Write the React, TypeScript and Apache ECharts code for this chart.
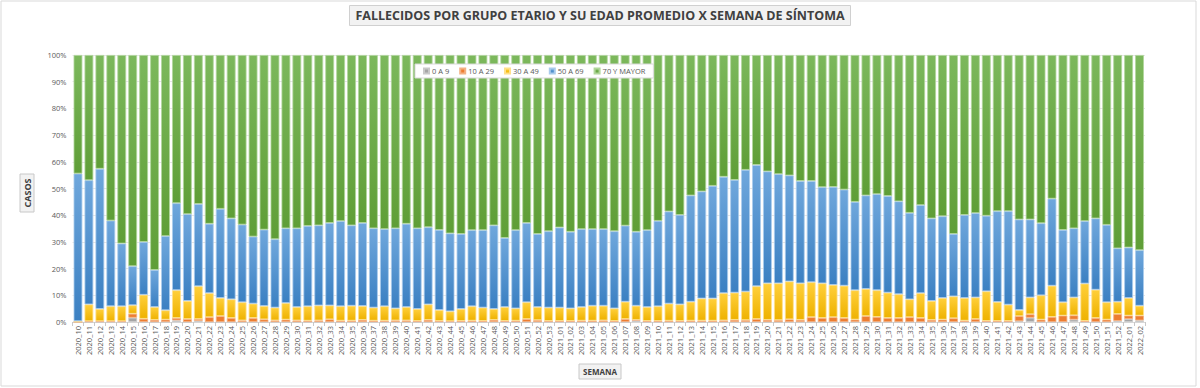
import React, { useEffect, useRef } from "react";
import * as echarts from "echarts";

const weeks: string[] = [
  "2020_10","2020_11","2020_12","2020_13","2020_14","2020_15","2020_16","2020_17","2020_18","2020_19",
  "2020_20","2020_21","2020_22","2020_23","2020_24","2020_25","2020_26","2020_27","2020_28","2020_29",
  "2020_30","2020_31","2020_32","2020_33","2020_34","2020_35","2020_36","2020_37","2020_38","2020_39",
  "2020_40","2020_41","2020_42","2020_43","2020_44","2020_45","2020_46","2020_47","2020_48","2020_49",
  "2020_50","2020_51","2020_52","2020_53","2021_01","2021_02","2021_03","2021_04","2021_05","2021_06",
  "2021_07","2021_08","2021_09","2021_10","2021_11","2021_12","2021_13","2021_14","2021_15","2021_16",
  "2021_17","2021_18","2021_19","2021_20","2021_21","2021_22","2021_23","2021_24","2021_25","2021_26",
  "2021_27","2021_28","2021_29","2021_30","2021_31","2021_32","2021_33","2021_34","2021_35","2021_36",
  "2021_37","2021_38","2021_39","2021_40","2021_41","2021_42","2021_43","2021_44","2021_45","2021_46",
  "2021_47","2021_48","2021_49","2021_50","2021_51","2021_52","2022_01","2022_02",
];

// shares (%) per age group
const age0to9: number[] = [
  0,0,0,0,0,1.6,0,0,0,0.6,
  0,0.4,0,0,0,0,0,0,0,0,
  0,0,0,0,0,0,0,0,0,0,
  0,0,0,0,0,0,0,0,0,0,
  0,0,0,0,0,0,0,0,0,0,
  0,0.6,0,0,0,0,0,0,0,0,
  0,0,0,0,0,0,0,0,0,0,
  0,0,0,0,0,0,0,0,0,0,
  0,0,0,0,0,0,0.3,1.6,0,0,
  0,0.9,0,0,0,0.4,1.1,0.6,
];
const age10to29: number[] = [
  0,0.3,0.3,0.3,0.3,1.5,1.2,0.8,0.9,0.9,
  1.1,0.7,1.8,2.2,1.5,0.6,1.5,1,0.6,0.9,
  0.6,0.5,0.6,1,0.5,0.5,0.8,0.5,0.5,0.6,
  0.6,0.4,0.8,0.4,0.3,0.4,0.5,0.4,0.8,0.4,
  0.5,1.1,0.7,0.4,0.4,0.4,0.5,0.5,0.6,0.4,
  1.1,0.2,0.4,0.4,0.5,0.4,0.5,0.5,0.5,0.6,
  0.8,0.7,1.1,0.8,0.7,1,0.8,1.8,1.5,1.8,
  1.5,0.9,2.2,1.9,1.5,1.5,1.8,1.5,0.8,0.9,
  1.4,0.5,1.1,0.4,0.4,0.4,1.9,1.3,0.9,1.9,
  2.4,1.6,0.4,1.5,0.9,2.6,1.3,1.8,
];
const age30to49: number[] = [
  0.3,6.3,4.6,5.6,5.6,3.2,9,4.8,3.5,10.4,
  6.8,12.3,9,6.8,7,6.8,5.4,5,4.8,6.2,
  5,5.4,5.6,5.2,5.4,5.6,5.2,4.9,5.4,4.5,
  5,4.5,5.8,4.1,3.7,4.5,5.4,5,4.1,5.2,
  4.6,6.3,4.9,5,5,4.7,5.1,5.6,5.5,4.7,
  6.5,5.3,5.2,5.5,6.4,6.2,7.1,8.3,8.3,10.2,
  10.2,10.7,12.3,13.7,13.8,14.2,13.7,13.1,13,12.1,
  12.1,11,10.2,10,9.5,8.9,6.7,9.3,7.1,8.1,
  8.2,8.5,8.1,11.1,7.1,6.1,2.3,6.3,9.1,11.7,
  5,6.7,14,10.6,6.5,4.6,6.6,3.7,
];
const age50to69: number[] = [
  55.3,46.5,52.5,32.1,23.5,14.6,19.8,13.9,27.8,32.6,
  32.5,30.8,26,33.4,30.3,29.1,25.1,28.6,25.6,28,
  29.5,30.1,30,30.9,31.9,30.1,31.1,29.7,28.9,30,
  31.2,30.2,28.9,30,29.2,28.1,28.5,29,31.3,25.9,
  29.3,29.7,27.4,28.6,30,28.7,29.2,28.7,28.7,28.9,
  28.5,27.7,28.8,32,34.5,33.5,39.8,40.1,42.2,43.6,
  42.2,45.6,45.4,41.9,40.9,39.7,38.3,37.9,36,36.7,
  36,33.1,35,36,36.2,34.8,32.4,33,30.9,30.6,
  23.4,31.1,31.6,28.3,34,35,33.9,29.2,27,32.6,
  27.1,25.9,23.4,26.7,29,20,18.9,20.8,
];
const age70plus: number[] = [
  44.4,46.9,42.6,62,70.6,79.1,70,80.5,67.8,55.5,
  59.6,55.8,63.2,57.6,61.2,63.5,68,65.4,69,64.9,
  64.9,64,63.8,62.9,62.2,63.8,62.9,64.9,65.2,64.9,
  63.2,64.9,64.5,65.5,66.8,67,65.6,65.6,63.8,68.5,
  65.6,62.9,67,66,64.6,66.2,65.2,65.2,65.2,66,
  63.9,66.2,65.6,62.1,58.6,59.9,52.6,51.1,49,45.6,
  46.8,43,41.2,43.6,44.6,45.1,47.2,47.2,49.5,49.4,
  50.4,55,52.6,52.1,52.8,54.8,59.1,56.2,61.2,60.4,
  67,59.9,59.2,60.2,58.5,58.5,61.6,61.6,63,53.8,
  65.5,64.9,62.2,61.2,63.6,72.4,72.1,73.1,
];

const seriesNames = ["0 A 9", "10 A 29", "30 A 49", "50 A 69", "70 Y MAYOR"];
const yTicks = [0, 10, 20, 30, 40, 50, 60, 70, 80, 90, 100];

const grad = (top: string, bottom: string) =>
  new echarts.graphic.LinearGradient(0, 0, 0, 1, [
    { offset: 0, color: top },
    { offset: 1, color: bottom },
  ]);

export default function App() {
  const ref = useRef<HTMLDivElement>(null);
  useEffect(() => {
    if (!ref.current) return;
    const chart = echarts.init(ref.current, undefined, { renderer: "svg" });
    const dataSets = [age0to9, age10to29, age30to49, age50to69, age70plus];
    const styles = [
      { color: "#a5a5a5", borderColor: "#c9c9c9" },
      { color: "#ed7d31", borderColor: "#f4b183" },
      { color: grad("#ffcf3a", "#eeb200"), borderColor: "#ffe08a" },
      { color: grad("#6fa7dc", "#3b80c2"), borderColor: "#a9cbec" },
      { color: grad("#7cb85c", "#5f9e37"), borderColor: "#b0d69a" },
    ];
    const series = seriesNames.map((name, i) => ({
      name,
      type: "bar",
      stack: "total",
      barCategoryGap: "20%",
      data: dataSets[i],
      itemStyle: { ...styles[i], borderWidth: 0.8 },
    }));
    chart.setOption({
      animation: false,
      backgroundColor: "#ffffff",
      title: {
        text: "FALLECIDOS POR GRUPO ETARIO Y SU EDAD PROMEDIO X SEMANA DE SÍNTOMA",
        left: "center",
        top: 5,
        padding: [4, 6, 4, 6],
        backgroundColor: "#f2f2f2",
        borderColor: "#d0d0d0",
        borderWidth: 1,
        textStyle: {
          fontFamily: "Open Sans",
          fontWeight: "bold",
          fontSize: 12.5,
          color: "#404040",
        },
      },
      legend: {
        data: seriesNames,
        left: 415,
        top: 64,
        itemWidth: 5,
        itemHeight: 5,
        itemGap: 10,
        padding: [3, 8, 3, 8],
        backgroundColor: "#ffffff",
        borderColor: "#d9d9d9",
        borderWidth: 1,
        icon: "rect",
        textStyle: { fontSize: 7.5, color: "#595959", fontFamily: "Open Sans", padding: [0, 0, 0, -2] },
      },
      grid: { left: 72.5, right: 55, top: 55, bottom: 66, containLabel: false },
      xAxis: {
        type: "category",
        data: weeks,
        axisLine: { lineStyle: { color: "#d9d9d9" } },
        axisTick: { show: true, length: 4, lineStyle: { color: "#c8c8c8" } },
        axisLabel: {
          rotate: 90,
          interval: 0,
          fontSize: 7.5,
          color: "#595959",
          fontFamily: "Open Sans",
          margin: 4,
        },
      },
      yAxis: {
        type: "value",
        min: 0,
        max: 100,
        interval: 10,
        axisLabel: {
          formatter: (v: number) => (yTicks.includes(v) ? `${v}%` : ""),
          fontSize: 7.5,
          color: "#595959",
          fontFamily: "Open Sans",
          margin: 6,
        },
        axisLine: { show: false },
        axisTick: { show: false },
        splitLine: { lineStyle: { color: "#e6e6e6" } },
      },
      graphic: [
        {
          type: "rect",
          shape: { x: 1, y: 1, width: 1195, height: 385 },
          style: { fill: "none", stroke: "#d9d9d9", lineWidth: 1 },
          silent: true,
        },
        {
          type: "rect",
          shape: { x: 20, y: 174, width: 14, height: 38 },
          style: { fill: "#f2f2f2", stroke: "#c8c8c8", lineWidth: 1 },
        },
        {
          type: "text",
          x: 27,
          y: 193,
          rotation: Math.PI / 2,
          style: {
            text: "CASOS",
            fontSize: 9,
            fontWeight: "bold",
            fontFamily: "Open Sans",
            fill: "#404040",
            align: "center",
            verticalAlign: "middle",
          },
        },
        {
          type: "rect",
          shape: { x: 579, y: 364, width: 42, height: 15 },
          style: { fill: "#f2f2f2", stroke: "#c8c8c8", lineWidth: 1 },
        },
        {
          type: "text",
          x: 600,
          y: 371.5,
          style: {
            text: "SEMANA",
            fontSize: 8,
            fontWeight: "bold",
            fontFamily: "Open Sans",
            fill: "#404040",
            align: "center",
            verticalAlign: "middle",
          },
        },
      ],
      series,
    });
    return () => chart.dispose();
  }, []);
  return (
    <div
      ref={ref}
      style={{ position: "fixed", left: 0, top: 0, width: 1200, height: 388 }}
    />
  );
}
